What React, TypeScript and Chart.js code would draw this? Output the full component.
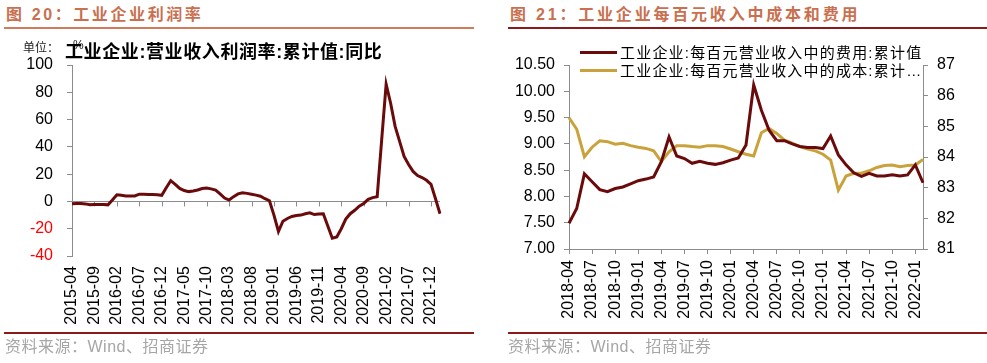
import React, { useEffect, useRef } from 'react';
import { Chart, registerables } from 'chart.js';

Chart.register(...registerables);

// ---------- Left chart: 工业企业:营业收入利润率:累计值:同比 ----------
const profitMonths = [
  '2015-04', '2015-05', '2015-06', '2015-07', '2015-08', '2015-09', '2015-10', '2015-11', '2015-12',
  '2016-01', '2016-02', '2016-03', '2016-04', '2016-05', '2016-06', '2016-07', '2016-08', '2016-09', '2016-10', '2016-11', '2016-12',
  '2017-01', '2017-02', '2017-03', '2017-04', '2017-05', '2017-06', '2017-07', '2017-08', '2017-09', '2017-10', '2017-11', '2017-12',
  '2018-01', '2018-02', '2018-03', '2018-04', '2018-05', '2018-06', '2018-07', '2018-08', '2018-09', '2018-10', '2018-11', '2018-12',
  '2019-01', '2019-02', '2019-03', '2019-04', '2019-05', '2019-06', '2019-07', '2019-08', '2019-09', '2019-10', '2019-11', '2019-12',
  '2020-01', '2020-02', '2020-03', '2020-04', '2020-05', '2020-06', '2020-07', '2020-08', '2020-09', '2020-10', '2020-11', '2020-12',
  '2021-01', '2021-02', '2021-03', '2021-04', '2021-05', '2021-06', '2021-07', '2021-08', '2021-09', '2021-10', '2021-11', '2021-12',
  '2022-01', '2022-02',
];
const profitYoY = [
  -1.7, -1.5, -1.5, -1.8, -2.5, -2.2, -2.3, -2.3, -2.5,
  1.0, 4.9, 4.5, 4.0, 4.0, 4.0, 5.3, 5.3, 5.0, 5.0, 4.9, 4.5,
  10.0, 15.2, 12.5, 9.5, 8.0, 7.2, 7.6, 8.4, 9.5, 9.9, 9.2, 8.3,
  5.5, 2.5, 1.0, 3.5, 5.5, 6.4, 5.9, 5.3, 4.6, 3.8, 2.0, 0.5,
  -10.0, -22.0, -14.5, -12.5, -11.0, -10.3, -10.0, -9.0, -8.3, -9.6, -9.2, -9.0,
  -18.0, -27.0, -26.0, -20.0, -13.0, -9.0, -6.5, -3.5, -1.5, 1.5, 2.8, 3.4,
  45.0, 86.0, 72.0, 55.0, 44.0, 33.0, 27.0, 22.0, 19.0, 17.5, 15.5, 12.5,
  2.0, -9.0,
];
const profitLabelEvery = 5;
const profitTicks = [-40, -20, 0, 20, 40, 60, 80, 100];

// ---------- Right chart: 每百元营业收入中的费用 / 成本 ----------
const costMonths = [
  '2018-04', '2018-05', '2018-06', '2018-07', '2018-08', '2018-09', '2018-10', '2018-11', '2018-12',
  '2019-01', '2019-02', '2019-03', '2019-04', '2019-05', '2019-06', '2019-07', '2019-08', '2019-09', '2019-10', '2019-11', '2019-12',
  '2020-01', '2020-02', '2020-03', '2020-04', '2020-05', '2020-06', '2020-07', '2020-08', '2020-09', '2020-10', '2020-11', '2020-12',
  '2021-01', '2021-02', '2021-03', '2021-04', '2021-05', '2021-06', '2021-07', '2021-08', '2021-09', '2021-10', '2021-11', '2021-12',
  '2022-01', '2022-02',
];
const expensePer100 = [
  7.49, 7.77, 8.43, 8.28, 8.13, 8.09, 8.15, 8.18, 8.24,
  8.30, 8.33, 8.37, 8.66, 9.13, 8.77, 8.72, 8.63, 8.67, 8.63, 8.61, 8.64,
  8.69, 8.73, 8.98, 10.12, 9.64, 9.26, 9.06, 9.06, 9.00, 8.95, 8.93, 8.93,
  8.91, 9.15, 8.79, 8.60, 8.45, 8.38, 8.44, 8.39, 8.39, 8.41, 8.39, 8.41,
  8.60, 8.26,
];
const costPer100 = [
  85.28, 84.91, 84.01, 84.32, 84.53, 84.50, 84.42, 84.45, 84.37,
  84.32, 84.28, 84.20, 83.85, 84.17, 84.37, 84.37, 84.34, 84.32, 84.37, 84.37, 84.34,
  84.26, 84.17, 84.09, 84.03, 84.79, 84.93, 84.77, 84.55, 84.45, 84.34, 84.26, 84.20,
  84.09, 83.90, 82.92, 83.38, 83.47, 83.47, 83.55, 83.66, 83.72, 83.74, 83.68, 83.72,
  83.74, 83.92,
];
const costLabelEvery = 3;
const expenseLabel = '工业企业:每百元营业收入中的费用:累计值';
const costLabel = '工业企业:每百元营业收入中的成本:累计…';

const FONT = '"Liberation Sans", Arial, "Noto Sans CJK SC", sans-serif';
const CJK = '"Liberation Sans", "Noto Sans CJK SC", sans-serif';
const AXIS_GRAY = '#8c8c8c';
const DARK_RED = '#6B0A0A';
const GOLD = '#C9A23C';
const TRANSPARENT = 'rgba(0,0,0,0)';

const zeroTickPlugin = {
  id: 'zeroTicks',
  beforeDatasetsDraw(chart: any) {
    const { ctx, scales } = chart;
    const x = scales.x;
    const y = scales.y;
    const y0 = y.getPixelForValue(0);
    ctx.save();
    ctx.strokeStyle = AXIS_GRAY;
    ctx.lineWidth = 1;
    x.ticks.forEach((_t: any, i: number) => {
      if (i % profitLabelEvery !== 0) return;
      const px = Math.round(x.getPixelForTick(i)) + 0.5;
      ctx.beginPath();
      ctx.moveTo(px, y0);
      ctx.lineTo(px, y0 + 5);
      ctx.stroke();
    });
    ctx.restore();
  },
};

export default function App() {
  const leftRef = useRef<HTMLCanvasElement | null>(null);
  const rightRef = useRef<HTMLCanvasElement | null>(null);

  useEffect(() => {
    const tickFont = { family: FONT, size: 16 };
    const left = new Chart(leftRef.current as HTMLCanvasElement, {
      type: 'line',
      data: {
        labels: profitMonths,
        datasets: [
          {
            label: '工业企业:营业收入利润率:累计值:同比',
            data: profitYoY,
            borderColor: DARK_RED,
            backgroundColor: DARK_RED,
            borderWidth: 3,
            pointRadius: 0,
            tension: 0,
          },
        ],
      },
      options: {
        animation: false,
        responsive: false,
        maintainAspectRatio: false,
        layout: { padding: { top: 25, right: 40, left: 0, bottom: 0 } },
        plugins: { legend: { display: false }, tooltip: { enabled: false } },
        scales: {
          x: {
            offset: false,
            grid: { display: false, drawTicks: false },
            border: { display: false },
            ticks: {
              autoSkip: false,
              maxRotation: 90,
              minRotation: 90,
              padding: 10,
              color: '#000',
              font: tickFont,
              callback: (_v: any, i: number) => (i % profitLabelEvery === 0 ? profitMonths[i] : ''),
            },
            afterFit: (s: any) => {
              s.height = 79;
            },
          },
          y: {
            min: profitTicks[0],
            max: profitTicks[profitTicks.length - 1],
            afterBuildTicks: (s: any) => {
              s.ticks = profitTicks.map((v) => ({ value: v }));
            },
            ticks: {
              padding: 14,
              font: tickFont,
              color: (c: any) => (c.tick && c.tick.value < 0 ? '#FF0000' : '#000'),
            },
            grid: {
              drawOnChartArea: true,
              color: (c: any) => (c.tick && c.tick.value === 0 ? AXIS_GRAY : TRANSPARENT),
              tickColor: AXIS_GRAY,
              tickLength: 5,
              lineWidth: 1,
            },
            border: { display: true, color: AXIS_GRAY },
            afterFit: (s: any) => {
              s.width = 72;
            },
          },
        },
      } as any,
      plugins: [zeroTickPlugin],
    });

    const right = new Chart(rightRef.current as HTMLCanvasElement, {
      type: 'line',
      data: {
        labels: costMonths,
        datasets: [
          {
            label: expenseLabel,
            data: expensePer100,
            yAxisID: 'y',
            borderColor: DARK_RED,
            backgroundColor: DARK_RED,
            borderWidth: 3,
            pointRadius: 0,
            tension: 0,
          },
          {
            label: costLabel,
            data: costPer100,
            yAxisID: 'y1',
            borderColor: GOLD,
            backgroundColor: GOLD,
            borderWidth: 3,
            pointRadius: 0,
            tension: 0,
          },
        ],
      },
      options: {
        animation: false,
        responsive: false,
        maintainAspectRatio: false,
        layout: { padding: { top: 25, right: 0, left: 0, bottom: 0 } },
        plugins: { legend: { display: false }, tooltip: { enabled: false } },
        scales: {
          x: {
            offset: false,
            grid: {
              display: true,
              drawOnChartArea: false,
              drawTicks: true,
              tickLength: 5,
              color: TRANSPARENT,
              tickColor: (c: any) => (c.index % costLabelEvery === 0 ? AXIS_GRAY : TRANSPARENT),
            },
            border: { display: true, color: AXIS_GRAY },
            ticks: {
              autoSkip: false,
              maxRotation: 90,
              minRotation: 90,
              padding: 6,
              color: '#000',
              font: tickFont,
              callback: (_v: any, i: number) => (i % costLabelEvery === 0 ? costMonths[i] : ''),
            },
            afterFit: (s: any) => {
              s.height = 86;
            },
          },
          y: {
            position: 'left',
            min: 7,
            max: 10.5,
            ticks: {
              stepSize: 0.5,
              padding: 9,
              color: '#000',
              font: tickFont,
              callback: (v: any) => Number(v).toFixed(2),
            },
            grid: { drawOnChartArea: false, tickLength: 5, color: AXIS_GRAY, tickColor: AXIS_GRAY },
            border: { display: true, color: AXIS_GRAY },
            afterFit: (s: any) => {
              s.width = 74;
            },
          },
          y1: {
            position: 'right',
            min: 81,
            max: 87,
            ticks: { stepSize: 1, padding: 9, color: '#000', font: tickFont },
            grid: { drawOnChartArea: false, tickLength: 5, color: AXIS_GRAY, tickColor: AXIS_GRAY },
            border: { display: true, color: AXIS_GRAY },
            afterFit: (s: any) => {
              s.width = 64;
            },
          },
        },
      } as any,
    });

    return () => {
      left.destroy();
      right.destroy();
    };
  }, []);

  const abs = (s: React.CSSProperties): React.CSSProperties => ({ position: 'absolute', whiteSpace: 'nowrap', ...s });

  return (
    <div style={{ position: 'absolute', left: 0, top: 0, width: 987, height: 363, background: '#fff', overflow: 'hidden', fontFamily: CJK }}>
      {/* Left panel */}
      <div style={abs({ left: 6, top: 4, fontSize: 16, lineHeight: '22px', fontWeight: 'bold', color: '#C8704F', letterSpacing: 2.6 })}>
        图 20：工业企业利润率
      </div>
      <div style={abs({ left: 4, top: 27, width: 470, height: 2, background: '#D27A5C' })} />
      <canvas ref={leftRef} width={480} height={295} style={abs({ left: 0, top: 40, width: 480, height: 295 })} />
      <div style={abs({ left: 23, top: 40, fontSize: 12, lineHeight: '16px', color: '#222' })}>
        单位：<span style={{ position: 'relative', left: 14, top: -3 }}>%</span>
      </div>
      <div style={abs({ left: 65, top: 40, fontSize: 18, lineHeight: '24px', fontWeight: 'bold', color: '#000', letterSpacing: 0.6 })}>
        工业企业:营业收入利润率:累计值:同比
      </div>
      <div style={abs({ left: 4, top: 332, width: 470, height: 2, background: '#8B1A1A' })} />
      <div style={abs({ left: 5, top: 337, fontSize: 16, lineHeight: '20px', color: '#A6A6A6', letterSpacing: 0.5 })}>资料来源：Wind、招商证券</div>

      {/* Right panel */}
      <div style={abs({ left: 510, top: 4, fontSize: 16, lineHeight: '22px', fontWeight: 'bold', color: '#C8704F', letterSpacing: 2.8 })}>
        图 21：工业企业每百元收入中成本和费用
      </div>
      <div style={abs({ left: 508, top: 27, width: 479, height: 2, background: '#8B1A1A' })} />
      <canvas ref={rightRef} width={492} height={295} style={abs({ left: 495, top: 40, width: 492, height: 295 })} />
      <div style={abs({ left: 580, top: 51, width: 37, height: 3, background: DARK_RED })} />
      <div style={abs({ left: 620, top: 43, fontSize: 15, lineHeight: '20px', color: '#000', letterSpacing: 1.2 })}>{expenseLabel}</div>
      <div style={abs({ left: 580, top: 69, width: 37, height: 3, background: GOLD })} />
      <div style={abs({ left: 620, top: 61, fontSize: 15, lineHeight: '20px', color: '#000', letterSpacing: 1.2 })}>{costLabel}</div>
      <div style={abs({ left: 508, top: 332, width: 479, height: 2, background: '#8B1A1A' })} />
      <div style={abs({ left: 508, top: 337, fontSize: 16, lineHeight: '20px', color: '#A6A6A6', letterSpacing: 0.5 })}>资料来源：Wind、招商证券</div>
    </div>
  );
}
